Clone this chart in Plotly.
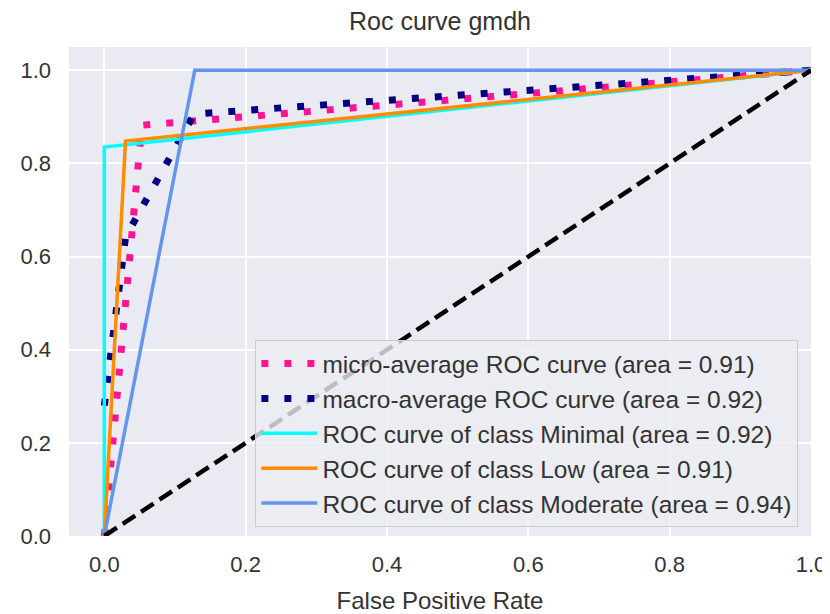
import plotly.graph_objects as go

# ---- data ----
micro_fpr = [0.0, 0.053, 1.0]
micro_tpr = [0.0, 0.882, 1.0]

macro_fpr = [0.0, 0.03, 0.127, 1.0]
macro_tpr = [0.28, 0.642, 0.906, 1.0]

minimal_fpr = [0.0, 0.0, 1.0]
minimal_tpr = [0.0, 0.835, 1.0]

low_fpr = [0.0, 0.03, 1.0]
low_tpr = [0.0, 0.848, 1.0]

moderate_fpr = [0.0, 0.128, 1.0]
moderate_tpr = [0.0, 1.0, 1.0]

diag_x = [0.0, 1.0]
diag_y = [0.0, 1.0]

labels = [
    "micro-average ROC curve (area = 0.91)",
    "macro-average ROC curve (area = 0.92)",
    "ROC curve of class Minimal (area = 0.92)",
    "ROC curve of class Low (area = 0.91)",
    "ROC curve of class Moderate (area = 0.94)",
]
x_ticks = [0.0, 0.2, 0.4, 0.6, 0.8, 1.0]
y_ticks = [0.0, 0.2, 0.4, 0.6, 0.8, 1.0]

TEXT = "#333333"
FONT = "Liberation Sans, Arial, sans-serif"

fig = go.Figure()
fig.add_trace(go.Scatter(x=micro_fpr, y=micro_tpr, mode="lines", name=labels[0],
                         legendgroup="a",
                         line=dict(color="#FF1493", width=7, dash="7px,16px")))
fig.add_trace(go.Scatter(x=macro_fpr, y=macro_tpr, mode="lines", name=labels[1],
                         legendgroup="b",
                         line=dict(color="#000080", width=7, dash="7px,16px")))
fig.add_trace(go.Scatter(x=minimal_fpr, y=minimal_tpr, mode="lines", name=labels[2],
                         legendgroup="c",
                         line=dict(color="#00FFFF", width=3.5)))
fig.add_trace(go.Scatter(x=low_fpr, y=low_tpr, mode="lines", name=labels[3],
                         legendgroup="d",
                         line=dict(color="#FF8C00", width=3.5)))
fig.add_trace(go.Scatter(x=moderate_fpr, y=moderate_tpr, mode="lines", name=labels[4],
                         legendgroup="e",
                         line=dict(color="#6495ED", width=3.5)))
fig.add_trace(go.Scatter(x=diag_x, y=diag_y, mode="lines", showlegend=False,
                         line=dict(color="black", width=4.5, dash="15px,7px")))

# the page body adds an 8px offset, so margins are shifted by -8px
fig.update_layout(
    width=830, height=614,
    paper_bgcolor="white",
    plot_bgcolor="#EAEAF2",
    margin=dict(l=60, r=25, t=39, b=85),
    font=dict(family=FONT, color=TEXT),
    title=dict(text="Roc curve gmdh", x=0.5, xref="paper", xanchor="center",
               y=1 - 13 / 614, yanchor="middle",
               font=dict(size=25, color=TEXT, family=FONT)),
    showlegend=True,
    legend=dict(
        x=0.983, y=0.018, xanchor="right", yanchor="bottom",
        bgcolor="rgba(236,236,242,0.8)",
        bordercolor="#CCCCCC", borderwidth=1,
        font=dict(size=24.5, color=TEXT, family=FONT),
        itemwidth=56,
        tracegroupgap=4,
        traceorder="normal",
    ),
)
fig.update_xaxes(
    range=[-0.05, 1.0], tickvals=x_ticks,
    ticktext=[f"{v:.1f}" for v in x_ticks],
    showgrid=True, gridcolor="white", gridwidth=1.5,
    zeroline=False, showline=False,
    tickfont=dict(size=22, color=TEXT),
    ticklabelstandoff=13,
    title=dict(text="False Positive Rate", font=dict(size=24, color=TEXT), standoff=16),
)
fig.update_yaxes(
    range=[0.0, 1.05], tickvals=y_ticks,
    ticktext=[f"{v:.1f}" for v in y_ticks],
    showgrid=True, gridcolor="white", gridwidth=1.5,
    zeroline=False, showline=False,
    tickfont=dict(size=22, color=TEXT),
    ticklabelstandoff=17,
)

fig.write_html("out.html")
